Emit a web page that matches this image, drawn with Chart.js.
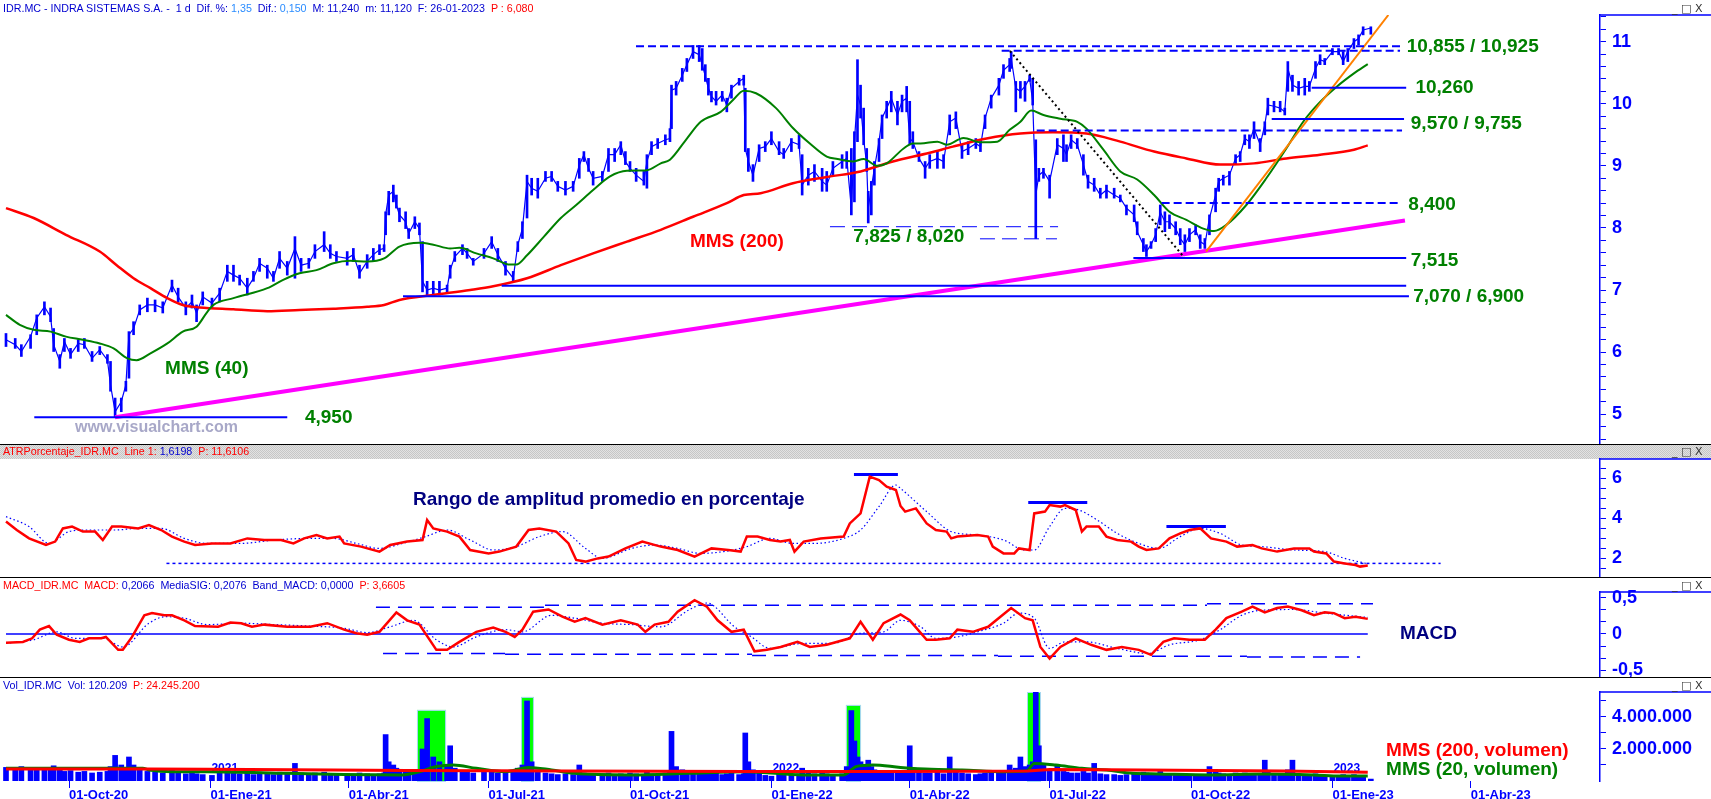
<!DOCTYPE html>
<html>
<head>
<meta charset="utf-8">
<script src="https://cdn.jsdelivr.net/npm/chart.js@4.4.1/dist/chart.umd.min.js"></script>
<style>
  body { margin: 0; width: 1711px; height: 799px; overflow: hidden; position: relative; background: #fff;
         font-family: "Liberation Sans", Arial, sans-serif; }
  canvas { position: absolute; left: 0; }
  .hdr { position: absolute; left: 3px; font-size: 10.7px; line-height: 13px; white-space: pre; color: #0000d0; }
  .b { color: #0000d0; } .lb { color: #2a8cff; } .r { color: #ff0000; }
  .sep { position: absolute; left: 0; width: 1711px; height: 1px; background: #000; }
  .band { position: absolute; left: 0; top: 445px; width: 1711px; height: 14px;
          background: repeating-conic-gradient(#c6c6c6 0 25%, #e2e2e2 0 50%) 0 0 / 2px 2px; }
  .win { position: absolute; left: 1672px; font-family: "DejaVu Sans", sans-serif; font-size: 11px; line-height: 13px;
         color: #333; white-space: pre; }
  .mark { position: absolute; left: 75px; top: 418px; font-size: 16px; font-weight: bold; color: #a8a8c8; }
</style>
</head>
<body>
<div class="band"></div>
<canvas id="cMain" width="1711" height="446" style="top:0"></canvas>
<canvas id="cAtr" width="1711" height="122" style="top:457px"></canvas>
<canvas id="cMacd" width="1711" height="89" style="top:590px"></canvas>
<canvas id="cVol" width="1711" height="109" style="top:690px"></canvas>

<div class="sep" style="top:444px"></div>
<div class="sep" style="top:577px"></div>
<div class="sep" style="top:677px"></div>

<div class="hdr" style="top:2px"><span class="b">IDR.MC - INDRA SISTEMAS S.A. -  1 d  Dif. %: </span><span class="lb">1,35</span><span class="b">  Dif.: </span><span class="lb">0,150</span><span class="b">  M: 11,240  m: 11,120  F: 26-01-2023  </span><span class="r">P : 6,080</span></div>
<div class="hdr" style="top:445px"><span class="r">ATRPorcentaje_IDR.MC  Line 1: </span><span class="b">1,6198</span><span class="r">  P: 11,6106</span></div>
<div class="hdr" style="top:579px"><span class="r">MACD_IDR.MC  MACD: </span><span class="b">0,2066  MediaSIG: 0,2076  Band_MACD: 0,0000</span><span class="r">  P: 3,6605</span></div>
<div class="hdr" style="top:679px"><span class="b">Vol_IDR.MC  Vol: 120.209  </span><span class="r">P: 24.245.200</span></div>
<div class="win" style="top:2px">_ □ X</div>
<div class="win" style="top:445px">_ □ X</div>
<div class="win" style="top:579px">_ □ X</div>
<div class="win" style="top:679px">_ □ X</div>
<div class="mark">www.visualchart.com</div>

<script>
// x axis is in calendar days counted from 01-Oct-2020
const tickDays = [0, 92, 182, 273, 365, 457, 547, 638, 730, 822, 912];
const tickLabels = ['01-Oct-20', '01-Ene-21', '01-Abr-21', '01-Jul-21', '01-Oct-21', '01-Ene-22',
                    '01-Abr-22', '01-Jul-22', '01-Oct-22', '01-Ene-23', '01-Abr-23'];
const yearLabels = [['2021', 92], ['2022', 457], ['2023', 822]];

// price samples (every few sessions)
const days = [
  -41, -35, -31, -25, -21, -16, -12, -10, -6, -3,
  1, 6, 10, 15, 20, 25, 27, 30, 34, 37,
  39, 42, 46, 51, 56, 61, 67, 71, 76, 80,
  83, 87, 93, 98, 103, 107, 111, 116, 120, 124,
  129, 133, 137, 142, 147, 151, 156, 160, 166, 170,
  174, 181, 185, 189, 194, 198, 202, 205, 206, 208,
  211, 213, 215, 219, 221, 225, 228, 230, 233, 237,
  241, 246, 248, 251, 256,
  259, 263, 270, 275, 279, 284, 289, 292, 295, 298,
  301, 305, 310, 314, 318, 323, 328, 332, 335, 338,
  341, 347, 351, 355, 359, 362, 365, 369, 374, 376,
  379, 383, 388, 391, 392, 395, 399, 402, 406, 410,
  412, 414, 416, 418, 421, 425, 428, 431, 436, 439,
  440, 442, 445, 449, 453, 457, 462, 465, 470, 475,
  477, 481, 485, 490, 493, 497, 503, 506, 509, 511,
  513, 515, 517, 519, 520, 522, 524, 527, 529, 532,
  535, 539, 542, 545, 547, 549, 553, 557,
  560, 565, 569, 573, 577, 581, 585, 590, 593, 596,
  600, 605, 608, 612, 613, 616, 619, 622, 625, 627,
  629, 631, 634, 638, 643, 647, 649, 652, 656, 660,
  663, 667, 671, 675, 680, 684, 688, 693, 695, 699,
  701, 704, 707, 710, 713, 716, 720, 723, 726, 729,
  733, 736, 739, 742, 746, 748, 751, 755, 759, 762,
  765, 768, 771, 775, 778, 780, 784, 788, 791, 793,
  796, 800, 804, 807, 811, 814, 817, 822, 826, 829,
  832, 836, 839, 842, 847
];
const highs = [
  6.30, 6.22, 6.12, 6.28, 6.60, 6.81, 6.71, 6.38, 5.96, 6.22,
  6.06, 6.20, 6.22, 6.01, 6.09, 5.96, 5.85, 5.26, 5.26, 5.53,
  6.33, 6.49, 6.76, 6.87, 6.84, 6.81, 7.16, 7.03, 6.81, 6.92,
  6.76, 6.97, 6.87, 7.03, 7.40, 7.40, 7.24, 7.19, 7.30, 7.51,
  7.40, 7.30, 7.62, 7.46, 7.86, 7.51, 7.51, 7.73, 7.94, 7.73,
  7.62, 7.62, 7.67, 7.40, 7.57, 7.67, 7.73, 7.73, 8.26, 8.59,
  8.69, 8.53, 8.32, 8.26, 7.99, 8.18, 8.08, 7.78, 7.14, 7.14,
  7.14, 7.08, 7.40, 7.62, 7.73,
  7.67, 7.51, 7.67, 7.86, 7.67, 7.46, 7.30, 7.78, 8.10, 8.85,
  8.80, 8.80, 8.91, 8.91, 8.75, 8.75, 8.75, 9.12, 9.23, 9.12,
  8.91, 8.91, 9.28, 9.28, 9.39, 9.23, 9.07, 8.96, 8.91, 9.18,
  9.39, 9.44, 9.50, 9.60, 10.30, 10.36, 10.57, 10.73, 10.94, 10.94,
  10.89, 10.63, 10.41, 10.20, 10.20, 10.20, 10.09, 10.30, 10.41, 10.46,
  10.25, 9.28, 9.02, 9.34, 9.39, 9.55, 9.39, 9.28, 9.44, 9.50,
  9.18, 8.96, 9.02, 8.96, 8.91, 9.07, 9.18, 9.23, 9.28, 9.55,
  10.71, 10.30, 9.93, 9.28, 8.59, 8.75, 9.07, 9.44, 9.82, 10.04,
  10.20, 10.04, 10.14, 10.28, 10.04, 9.55, 9.23, 9.07,
  9.18, 9.23, 9.18, 9.82, 9.87, 9.34, 9.39, 9.44, 9.39, 9.82,
  10.14, 10.41, 10.63, 10.73, 10.84, 10.36, 10.36, 10.36, 10.46, 10.41,
  9.42, 8.96, 8.96, 8.85, 9.44, 9.50, 9.34, 9.50, 9.44, 9.18,
  8.85, 8.80, 8.64, 8.69, 8.64, 8.53, 8.37, 8.37, 8.10, 7.83,
  7.73, 7.78, 7.99, 8.37, 8.26, 8.21, 8.10, 7.99, 7.89, 7.99,
  8.05, 7.89, 7.83, 8.21, 8.64, 8.80, 8.85, 8.91, 9.18, 9.23,
  9.50, 9.50, 9.71, 9.44, 9.71, 10.09, 10.04, 10.04, 9.93, 10.68,
  10.46, 10.36, 10.41, 10.36, 10.68, 10.79, 10.73, 10.89, 10.89, 10.84,
  10.89, 11.05, 11.11, 11.24, 11.24
];
const lows = [
  6.09, 6.06, 5.93, 6.06, 6.28, 6.60, 6.49, 6.01, 5.74, 6.01,
  5.90, 6.01, 6.06, 5.85, 5.96, 5.82, 5.37, 4.95, 5.04, 5.37,
  5.58, 6.28, 6.60, 6.65, 6.65, 6.63, 6.97, 6.81, 6.60, 6.71,
  6.49, 6.76, 6.71, 6.81, 7.14, 7.14, 7.08, 6.92, 7.14, 7.30,
  7.19, 7.14, 7.35, 7.24, 7.19, 7.30, 7.35, 7.51, 7.62, 7.51,
  7.46, 7.40, 7.46, 7.19, 7.35, 7.46, 7.57, 7.62, 7.89, 8.21,
  8.42, 8.32, 8.10, 7.99, 7.83, 7.99, 7.89, 6.97, 6.92, 6.92,
  6.92, 6.97, 7.19, 7.46, 7.57,
  7.51, 7.40, 7.51, 7.67, 7.46, 7.24, 7.14, 7.62, 7.83, 8.16,
  8.53, 8.48, 8.75, 8.75, 8.59, 8.53, 8.59, 8.80, 9.07, 8.91,
  8.69, 8.75, 8.91, 9.07, 9.18, 9.02, 8.91, 8.75, 8.69, 8.64,
  9.18, 9.28, 9.34, 9.39, 9.60, 10.14, 10.36, 10.52, 10.73, 10.68,
  10.54, 10.36, 10.14, 10.03, 9.98, 10.04, 9.87, 10.09, 10.30, 10.30,
  9.23, 8.91, 8.75, 9.07, 9.23, 9.34, 9.18, 9.12, 9.23, 9.28,
  8.53, 8.69, 8.75, 8.59, 8.59, 8.85, 8.96, 8.96, 8.21, 8.42,
  9.39, 9.77, 9.34, 8.91, 8.08, 8.21, 8.69, 9.07, 9.44, 9.77,
  9.87, 9.66, 9.87, 9.87, 9.34, 9.28, 9.07, 8.80,
  8.96, 8.96, 8.96, 9.50, 9.60, 9.12, 9.18, 9.28, 9.23, 9.60,
  9.93, 10.14, 10.41, 10.52, 10.57, 9.87, 10.09, 10.04, 10.36, 9.98,
  7.83, 8.75, 8.80, 8.48, 9.18, 9.07, 9.07, 9.28, 9.28, 8.85,
  8.64, 8.59, 8.48, 8.48, 8.48, 8.42, 8.21, 8.10, 7.89, 7.62,
  7.54, 7.67, 7.78, 8.05, 7.94, 7.99, 7.89, 7.73, 7.62, 7.78,
  7.89, 7.67, 7.67, 7.89, 8.26, 8.59, 8.69, 8.69, 9.02, 9.07,
  9.34, 9.28, 9.44, 9.23, 9.50, 9.82, 9.87, 9.87, 9.82, 10.20,
  10.20, 10.14, 10.14, 10.20, 10.41, 10.63, 10.63, 10.79, 10.79, 10.63,
  10.68, 10.89, 10.95, 11.11, 11.12
];
const closes = [
  6.20, 6.12, 6.01, 6.25, 6.55, 6.73, 6.57, 6.12, 5.85, 6.17,
  5.96, 6.14, 6.12, 5.90, 6.04, 5.87, 5.47, 5.04, 5.20, 5.47,
  6.28, 6.38, 6.68, 6.76, 6.76, 6.71, 7.08, 6.89, 6.71, 6.81,
  6.63, 6.89, 6.79, 6.95, 7.30, 7.24, 7.19, 7.03, 7.19, 7.43,
  7.35, 7.19, 7.51, 7.35, 7.67, 7.40, 7.43, 7.62, 7.73, 7.59,
  7.54, 7.51, 7.57, 7.27, 7.46, 7.57, 7.65, 7.67, 8.21, 8.53,
  8.59, 8.37, 8.21, 8.10, 7.91, 8.10, 7.99, 7.14, 7.00, 7.03,
  7.00, 7.03, 7.32, 7.54, 7.67,
  7.59, 7.46, 7.59, 7.78, 7.57, 7.35, 7.19, 7.73, 7.99, 8.75,
  8.64, 8.59, 8.80, 8.83, 8.67, 8.61, 8.67, 9.01, 9.18, 8.96,
  8.80, 8.83, 9.18, 9.18, 9.34, 9.07, 8.96, 8.85, 8.75, 9.07,
  9.31, 9.36, 9.42, 9.44, 10.22, 10.25, 10.46, 10.63, 10.84, 10.79,
  10.63, 10.44, 10.25, 10.12, 10.04, 10.14, 9.98, 10.25, 10.36, 10.41,
  9.28, 9.07, 8.85, 9.28, 9.31, 9.44, 9.23, 9.18, 9.39, 9.34,
  8.69, 8.85, 8.91, 8.75, 8.69, 8.96, 9.07, 9.12, 8.32, 9.39,
  10.14, 9.98, 9.44, 9.02, 8.32, 8.64, 8.96, 9.39, 9.77, 9.93,
  10.09, 9.82, 10.04, 10.09, 9.44, 9.39, 9.12, 8.96,
  9.07, 9.12, 9.07, 9.71, 9.77, 9.23, 9.28, 9.36, 9.31, 9.77,
  10.09, 10.30, 10.54, 10.63, 10.73, 10.25, 10.20, 10.28, 10.41, 10.04,
  8.53, 8.85, 8.91, 8.75, 9.34, 9.28, 9.18, 9.42, 9.34, 9.02,
  8.75, 8.69, 8.53, 8.61, 8.53, 8.48, 8.32, 8.21, 7.94, 7.73,
  7.62, 7.73, 7.89, 8.26, 8.10, 8.10, 7.99, 7.83, 7.73, 7.89,
  7.97, 7.78, 7.73, 8.16, 8.53, 8.75, 8.80, 8.85, 9.12, 9.18,
  9.44, 9.39, 9.60, 9.34, 9.66, 9.98, 9.96, 9.93, 9.87, 10.57,
  10.30, 10.25, 10.28, 10.28, 10.57, 10.71, 10.68, 10.84, 10.84, 10.68,
  10.84, 11.00, 11.05, 11.19, 11.22
];
// volume in millions of shares, same samples as the price
const volumes = [
  0.85, 0.70, 0.90, 0.75, 0.80, 0.85, 0.70, 0.95, 0.80, 0.60,
  0.65, 0.55, 0.60, 0.50, 0.55, 0.60, 0.90, 1.60, 1.00, 0.80,
  1.50, 1.00, 0.80, 0.60, 0.55, 0.50, 0.70, 0.50, 0.45, 0.50,
  0.45, 0.40, 0.35, 0.50, 0.65, 0.50, 0.45, 0.50, 0.40, 0.55,
  0.50, 0.40, 0.55, 0.45, 1.10, 0.50, 0.45, 0.50, 0.55, 0.45,
  0.40, 0.45, 0.40, 0.50, 0.45, 0.40, 0.45, 0.50, 2.90, 1.20,
  1.00, 0.80, 0.70, 0.60, 0.60, 0.55, 0.70, 2.00, 3.90, 1.50,
  1.20, 1.00, 2.20, 0.80, 0.60,
  0.60, 0.50, 0.55, 0.60, 0.50, 0.55, 0.60, 0.80, 1.00, 5.00,
  1.20, 0.70, 0.50, 0.45, 0.40, 0.45, 0.40, 1.00, 0.50, 0.45,
  0.40, 0.45, 0.50, 0.40, 0.45, 0.40, 0.50, 0.45, 0.40, 0.55,
  0.45, 0.40, 0.50, 0.60, 3.10, 0.90, 0.70, 0.60, 0.65, 0.55,
  0.60, 0.50, 0.55, 0.45, 0.50, 0.40, 0.45, 0.50, 0.40, 0.45,
  3.00, 1.20, 0.70, 0.50, 0.35, 0.30, 0.45, 0.40, 0.40, 0.45,
  0.80, 0.50, 0.45, 0.50, 0.45, 0.40, 0.45, 0.90, 4.40, 2.50,
  1.50, 1.20, 1.00, 0.80, 1.30, 0.90, 0.70, 0.60, 0.65, 0.60,
  0.50, 0.55, 0.50, 0.60, 2.20, 0.80, 0.55, 0.50,
  0.50, 0.55, 0.45, 1.50, 0.70, 0.50, 0.45, 0.40, 0.45, 0.50,
  0.55, 0.50, 0.60, 1.00, 0.70, 0.80, 1.50, 0.90, 1.00, 1.20,
  5.60, 2.20, 1.00, 0.70, 1.00, 0.60, 0.55, 0.50, 0.50, 0.60,
  0.50, 1.10, 0.45, 0.40, 0.40, 0.35, 0.40, 0.45, 0.50, 0.55,
  0.50, 0.40, 0.45, 0.60, 0.40, 0.45, 0.35, 0.40, 0.45, 0.40,
  0.40, 0.35, 0.40, 0.90, 0.60, 0.50, 0.45, 0.40, 0.50, 0.45,
  0.50, 0.40, 0.45, 0.40, 1.30, 0.60, 0.40, 0.45, 0.40, 0.70,
  1.30, 0.45, 0.40, 0.35, 0.45, 0.40, 0.30, 0.25, 0.35, 0.40,
  0.35, 0.40, 0.30, 0.35, 0.12
];

// moving averages
const ma40Days = [-41, -32, -23, -12, -2, 9, 20, 29, 38, 44, 53, 64, 74, 83, 90, 94, 107, 129, 139, 150,
  161, 172, 183, 194, 205, 215, 228, 237, 248, 254, 265, 276, 287, 291, 298, 309, 320, 330, 341, 352,
  363, 376, 385, 391, 402, 411, 424, 432, 439, 447, 460, 471, 482, 493, 500, 510, 517, 526, 532, 543,
  549, 554, 565, 571, 582, 593, 604, 612, 619, 626, 634, 645, 656, 662, 673, 684, 695, 706, 716, 727,
  738, 745, 753, 766, 779, 792, 803, 814, 825, 836, 845];
const ma40Values = [6.60, 6.44, 6.36, 6.33, 6.25, 6.20, 6.14, 6.06, 5.90, 5.87, 5.98, 6.14, 6.33, 6.41, 6.65, 6.76, 6.87, 7.03, 7.16, 7.27,
  7.32, 7.43, 7.47, 7.46, 7.51, 7.70, 7.76, 7.73, 7.67, 7.68, 7.59, 7.51, 7.41, 7.41, 7.56, 7.86, 8.16, 8.37, 8.61, 8.83,
  8.92, 8.93, 9.04, 9.10, 9.44, 9.71, 9.87, 10.06, 10.21, 10.17, 9.93, 9.61, 9.36, 9.15, 9.11, 9.07, 9.11, 9.00, 9.04, 9.28,
  9.36, 9.36, 9.39, 9.34, 9.45, 9.38, 9.39, 9.58, 9.71, 9.89, 9.82, 9.76, 9.71, 9.60, 9.26, 8.91, 8.78, 8.53, 8.26, 8.13,
  7.99, 7.95, 8.05, 8.37, 8.80, 9.28, 9.71, 10.03, 10.28, 10.49, 10.64];
const ma200Days = [-41, -23, -2, 20, 31, 42, 53, 64, 74, 85, 107, 129, 150, 172, 194, 205, 215, 237, 261, 276,
  298, 320, 341, 363, 385, 406, 428, 439, 450, 471, 493, 515, 536, 560, 575, 597, 619, 640, 662, 684,
  706, 727, 749, 771, 792, 814, 836, 845];
const ma200Values = [8.32, 8.16, 7.89, 7.62, 7.40, 7.19, 7.03, 6.87, 6.76, 6.72, 6.69, 6.66, 6.68, 6.70, 6.73, 6.76, 6.84, 6.92, 7.00, 7.06,
  7.19, 7.40, 7.59, 7.78, 7.97, 8.18, 8.40, 8.53, 8.56, 8.72, 8.82, 8.91, 9.07, 9.21, 9.31, 9.44, 9.52, 9.54, 9.52, 9.39,
  9.23, 9.12, 9.02, 9.04, 9.12, 9.18, 9.26, 9.33];

// support / resistance drawn on the price panel: [from day, to day, price]
const solidLevels = [[-22.6, 142, 4.95], [217.3, 871.8, 6.90], [281.5, 870, 7.07], [692.5, 870, 7.515],
                     [782.5, 868.6, 9.755], [808.5, 870, 10.26]];
const dashedLevels = [[368.9, 866, 10.925], [606.8, 866, 10.855], [629.6, 867.3, 9.57], [710.9, 866.7, 8.40]];
const thinDashedLevels = [[495.1, 643.5, 8.02], [592.7, 642.8, 7.825]];
// trend lines: [[day, price], [day, price]]
const supportLine = [[29.9, 4.95], [869.2, 8.12]];
const trendUp = [[739.8, 7.62], [858.4, 11.43]];
const trendDown = [[612.2, 10.85], [726.1, 7.51]];
// text on the price panel: [text, day, price]
const levelLabels = [['10,855 / 10,925', 870.3, 10.92], ['10,260', 876, 10.25], ['9,570 / 9,755', 873, 9.675],
  ['8,400', 871.4, 8.38], ['7,515', 873, 7.47], ['7,070 / 6,900', 874.6, 6.89], ['4,950', 153.5, 4.94],
  ['7,825 / 8,020', 510.3, 7.86], ['MMS (40)', 62.5, 5.73]];
const redLabels = [['MMS (200)', 404, 7.78]];
const priceTickLabels = [5, 6, 7, 8, 9, 10, 11];

// ATR % panel
const atrDays = [-41, -34, -26, -15, -9, -4, 2, 9, 17, 22,
  28, 34, 45, 52, 60, 67, 75, 82, 93, 105,
  116, 127, 138, 146, 153, 161, 168, 176, 179, 190,
  202, 209, 220, 230, 233, 237, 246, 254, 261, 273,
  280, 291, 299, 306, 317, 325, 330, 336, 344, 351,
  362, 373, 385, 396, 407, 418, 429, 437, 441, 448,
  456, 463, 469, 472, 478, 489, 504, 508, 515, 521,
  527, 532, 538, 541, 544, 551, 558, 564, 571, 574,
  578, 591, 598, 601, 608, 615, 618, 625, 628, 635,
  638, 645, 648, 655, 659, 662, 670, 675, 682, 691,
  696, 701, 709, 716, 723, 729, 736, 743, 753, 760,
  770, 776, 786, 797, 807, 810, 818, 823, 830, 837,
  840, 845];
const atrValues = [3.82, 3.40, 2.98, 2.65, 2.82, 3.48, 3.57, 3.32, 3.32, 2.90,
  3.57, 3.57, 3.48, 3.65, 3.40, 3.07, 2.82, 2.65, 2.73, 2.73,
  2.98, 2.90, 2.90, 2.73, 2.98, 3.15, 2.98, 3.07, 2.73, 2.57,
  2.32, 2.65, 2.82, 2.90, 3.90, 3.48, 3.32, 3.07, 2.40, 2.23,
  2.32, 2.57, 3.40, 3.48, 3.32, 2.73, 1.90, 1.82, 1.98, 2.07,
  2.48, 2.82, 2.57, 2.40, 2.07, 2.48, 2.40, 2.32, 3.07, 3.07,
  2.90, 2.82, 2.90, 2.32, 2.82, 2.98, 3.07, 3.73, 4.23, 6.07,
  5.90, 5.57, 5.40, 4.60, 4.32, 4.48, 3.73, 3.40, 3.32, 2.98,
  3.07, 3.15, 3.07, 2.57, 2.23, 2.23, 2.48, 2.40, 4.23, 4.32,
  4.65, 4.57, 4.65, 4.40, 3.32, 3.57, 3.57, 3.07, 2.90, 2.82,
  2.57, 2.40, 2.48, 2.98, 3.23, 3.40, 3.48, 2.98, 2.82, 2.57,
  2.65, 2.48, 2.32, 2.48, 2.48, 2.32, 2.23, 1.82, 1.73, 1.65,
  1.57, 1.62];
const atrAvgDays = [-41, -26, -13, 0, 11, 30, 45, 60, 75, 90, 112, 134, 157, 172, 187, 202, 217, 232, 246, 261,
  276, 291, 306, 321, 336, 347, 366, 381, 396, 411, 426, 441, 456, 471, 485, 504, 515, 527, 538, 541,
  558, 574, 591, 608, 622, 628, 638, 648, 657, 669, 682, 696, 709, 723, 736, 749, 763, 776, 797, 817,
  830, 844];
const atrAvgValues = [4.07, 3.57, 2.73, 3.32, 3.40, 3.40, 3.48, 3.48, 2.98, 2.73, 2.73, 2.90, 2.98, 2.98, 2.73, 2.48, 2.73, 3.07, 3.40, 2.90,
  2.40, 2.57, 3.07, 3.32, 2.48, 1.98, 2.48, 2.65, 2.48, 2.23, 2.32, 2.57, 2.98, 2.73, 2.73, 2.98, 3.40, 4.57, 5.65, 5.48,
  4.32, 3.32, 3.15, 2.90, 2.40, 2.40, 3.57, 4.48, 4.40, 3.90, 3.23, 2.73, 2.48, 3.07, 3.48, 3.23, 2.65, 2.57, 2.40, 2.32,
  1.98, 1.73];
const atrPeakMarks = [[510.7, 539.3, 6.18], [624.1, 662.5, 4.77], [714, 752.7, 3.57]];
const atrFloor = [63.4, 892.4, 1.73];
const atrTickLabels = [2, 4, 6];

// MACD panel
const macdDays = [-41, -30, -24, -19, -13, -8, 0, 7, 13, 21,
  24, 32, 35, 41, 49, 54, 62, 67, 75, 82,
  97, 105, 112, 119, 127, 142, 157, 168, 179, 187,
  194, 202, 213, 220, 228, 239, 246, 254, 265, 276,
  284, 290, 295, 302, 312, 321, 329, 336, 347, 359,
  370, 375, 381, 390, 396, 407, 415, 422, 431, 439,
  446, 454, 463, 474, 482, 493, 508, 515, 523, 530,
  541, 547, 558, 564, 573, 578, 588, 598, 606, 613,
  622, 627, 632, 638, 645, 655, 665, 675, 685, 696,
  704, 712, 719, 729, 739, 746, 753, 763, 770, 778,
  786, 793, 802, 810, 817, 823, 830, 837, 845];
const macdValues = [-0.12, -0.11, -0.06, 0.06, 0.11, -0.01, -0.08, -0.11, -0.06, -0.06,
  -0.04, -0.22, -0.22, -0.04, 0.26, 0.29, 0.26, 0.26, 0.19, 0.11,
  0.10, 0.16, 0.15, 0.10, 0.13, 0.10, 0.10, 0.15, 0.06, 0.01,
  -0.01, 0.03, 0.30, 0.19, 0.13, -0.22, -0.22, -0.11, 0.03, 0.09,
  0.03, -0.04, 0.06, 0.31, 0.34, 0.24, 0.17, 0.22, 0.13, 0.19,
  0.13, 0.03, 0.13, 0.17, 0.31, 0.47, 0.38, 0.19, 0.03, 0.06,
  -0.24, -0.22, -0.18, -0.11, -0.18, -0.15, -0.06, 0.17, -0.08, 0.15,
  0.27, 0.19, -0.08, -0.08, -0.06, 0.06, 0.03, 0.10, 0.24, 0.36,
  0.22, 0.19, -0.18, -0.34, -0.18, -0.06, -0.15, -0.22, -0.18, -0.22,
  -0.29, -0.11, -0.06, -0.08, -0.08, 0.06, 0.22, 0.31, 0.38, 0.30,
  0.36, 0.38, 0.33, 0.26, 0.30, 0.29, 0.22, 0.24, 0.21];
const signalDays = [-41, -23, -8, 4, 22, 35, 52, 63, 75, 90, 112, 134, 157, 179, 194, 209, 224, 239, 250, 265,
  284, 295, 314, 329, 347, 366, 385, 403, 415, 433, 444, 456, 478, 497, 515, 530, 541, 554, 564, 578,
  591, 608, 618, 628, 638, 648, 662, 682, 702, 716, 736, 749, 763, 776, 797, 817, 845];
const signalValues = [-0.13, -0.08, 0.03, -0.06, -0.06, -0.18, 0.15, 0.24, 0.22, 0.13, 0.15, 0.13, 0.11, 0.08, 0.02, 0.10, 0.19, -0.08, -0.18, -0.04,
  0.06, 0.03, 0.26, 0.22, 0.15, 0.13, 0.10, 0.33, 0.43, 0.10, -0.04, -0.20, -0.13, -0.13, 0.01, 0.03, 0.19, 0.10, -0.06, -0.04,
  0.03, 0.15, 0.29, 0.22, -0.20, -0.11, -0.11, -0.20, -0.27, -0.15, -0.08, 0.06, 0.26, 0.33, 0.34, 0.29, 0.23];
const macdZero = [-41, 845, 0];
const macdUpperBand = [[199.7, 309.7, 0.37], [309.7, 740.4, 0.40], [740.4, 848.4, 0.42]];
const macdLowerBand = [[204.3, 283.7, -0.27], [283.7, 444.4, -0.28], [444.4, 604.4, -0.30], [604.4, 766.4, -0.31], [766.4, 840, -0.32]];
const macdTickLabels = [-0.5, 0, 0.5];

// volume panel (millions)
const volMa20Days = [-41, 48, 52, 67, 90, 142, 179, 217, 228, 239, 250, 265, 284, 299, 314, 329, 366, 403, 441, 478,
  504, 512, 523, 541, 561, 581, 608, 623, 628, 642, 659, 675, 692, 709, 743, 776, 810, 827, 845];
const volMa20Values = [0.79, 0.79, 0.69, 0.58, 0.58, 0.48, 0.40, 0.38, 0.58, 0.90, 1.00, 0.79, 0.58, 0.85, 0.69, 0.48, 0.38, 0.48, 0.58, 0.38,
  0.38, 0.90, 1.00, 0.85, 0.73, 0.69, 0.58, 0.62, 1.10, 1.00, 0.79, 0.69, 0.48, 0.44, 0.38, 0.44, 0.38, 0.31, 0.31];
const volMa200Days = [-41, 52, 90, 172, 220, 325, 441, 541, 624, 638, 675, 790, 845];
const volMa200Values = [0.75, 0.75, 0.73, 0.68, 0.65, 0.62, 0.59, 0.60, 0.63, 0.72, 0.70, 0.62, 0.55];
// green boxes behind volume peaks: [from day, to day, top]
const volHighlights = [[226.4, 245.3, 4.44], [294.1, 302.5, 5.25], [505.5, 515.3, 4.75], [623.3, 632.4, 5.6]];
const volTickLabels = [2, 4];

const FONT = '"Liberation Sans", Arial, sans-serif';
const BLUE = '#0000ff', GREEN = '#008000', RED = '#ff0000';
const X_MIN = -44.9, X_MAX = 996.1;

Chart.defaults.font.family = FONT;
Chart.defaults.animation = false;
Chart.defaults.events = [];
Chart.defaults.plugins.legend.display = false;
Chart.defaults.plugins.tooltip.enabled = false;

const pts = (xs, ys) => xs.map((x, i) => ({ x, y: ys[i] }));
const seg = (s, style) => Object.assign({ type: 'line', data: [{ x: s[0], y: s[2] }, { x: s[1], y: s[2] }], pointRadius: 0 }, style);
const line2 = (p, style) => Object.assign({ type: 'line', data: p.map(([x, y]) => ({ x, y })), pointRadius: 0 }, style);
const steps = (a, b, st) => { const out = []; for (let v = a; v <= b + 1e-9; v += st) out.push(+v.toFixed(4)); return out; };
const near = (v, list) => list.some(t => Math.abs(t - v) < 1e-6);

function xHidden() {
  return { type: 'linear', min: X_MIN, max: X_MAX, display: false, offset: false, grid: { offset: false } };
}
function yRight(min, max, tickVals, label) {
  return {
    type: 'linear', position: 'right', min, max,
    afterBuildTicks: s => { s.ticks = tickVals.map(v => ({ value: v })); },
    afterFit: s => { s.width = 111; s.paddingTop = 0; s.paddingBottom = 0; },
    ticks: { autoSkip: false, padding: 6, color: BLUE, font: { size: 18, weight: 'bold' }, callback: v => label(v) },
    grid: { drawOnChartArea: false, color: BLUE, tickLength: 6, lineWidth: 1 },
    border: { color: BLUE, width: 1.5 }
  };
}

// short blue line to the right of every axis top
const axisCap = {
  id: 'axisCap',
  afterDraw(chart) {
    const { ctx, chartArea: a } = chart;
    ctx.save();
    ctx.strokeStyle = BLUE; ctx.lineWidth = 1.5;
    ctx.beginPath(); ctx.moveTo(a.right, a.top); ctx.lineTo(chart.width, a.top); ctx.stroke();
    ctx.restore();
  }
};
// bold notes placed in data coordinates
const panelText = {
  id: 'panelText',
  afterDatasetsDraw(chart, args, opts) {
    const { ctx, scales: { x, y } } = chart;
    ctx.save();
    ctx.textBaseline = 'middle'; ctx.textAlign = 'left';
    ((opts && opts.items) || []).forEach(([t, d, v, color, size]) => {
      ctx.font = `bold ${size || 19}px ${FONT}`;
      ctx.fillStyle = color;
      ctx.fillText(t, x.getPixelForValue(d), y.getPixelForValue(v));
    });
    ctx.restore();
  }
};
Chart.register(axisCap, panelText);

// ---- price panel
const levelStyle = { borderColor: BLUE, borderWidth: 2 };
const dashStyle = { borderColor: BLUE, borderWidth: 2, borderDash: [8, 4] };
const thinDash = { borderColor: BLUE, borderWidth: 1, borderDash: [15, 7] };

new Chart(document.getElementById('cMain'), {
  type: 'line',
  data: {
    datasets: [
      ...solidLevels.map(s => seg(s, levelStyle)),
      ...dashedLevels.map(s => seg(s, dashStyle)),
      ...thinDashedLevels.map(s => seg(s, thinDash)),
      line2(trendDown, { borderColor: '#000', borderWidth: 2, borderDash: [2, 3] }),
      line2(trendUp, { borderColor: '#ff8000', borderWidth: 2 }),
      line2(supportLine, { borderColor: '#ff00ff', borderWidth: 4 }),
      { data: pts(ma40Days, ma40Values), borderColor: GREEN, borderWidth: 2, pointRadius: 0, cubicInterpolationMode: 'monotone' },
      { data: pts(ma200Days, ma200Values), borderColor: RED, borderWidth: 2.5, pointRadius: 0, cubicInterpolationMode: 'monotone' },
      { data: pts(days, closes), borderColor: BLUE, borderWidth: 1.2, pointRadius: 0 },
      { type: 'bar', data: days.map((d, i) => ({ x: d, y: [lows[i], highs[i]] })), backgroundColor: BLUE, barThickness: 2 }
    ]
  },
  options: {
    responsive: false,
    layout: { padding: { top: 15, bottom: 2, left: 0, right: 0 } },
    scales: {
      x: xHidden(),
      y: yRight(4.52, 11.43, steps(4.6, 11.4, 0.2), v => near(v, priceTickLabels) ? String(Math.round(v)) : '')
    },
    plugins: {
      panelText: { items: [...levelLabels.map(l => [...l, GREEN]), ...redLabels.map(l => [...l, RED])] }
    }
  }
});

// ---- ATR % panel
new Chart(document.getElementById('cAtr'), {
  type: 'line',
  data: {
    datasets: [
      { data: pts(atrDays, atrValues), borderColor: RED, borderWidth: 2.5, pointRadius: 0 },
      { data: pts(atrAvgDays, atrAvgValues), borderColor: BLUE, borderWidth: 1.2, borderDash: [1.5, 2.5], pointRadius: 0, cubicInterpolationMode: 'monotone' },
      ...atrPeakMarks.map(s => seg(s, { borderColor: BLUE, borderWidth: 3 })),
      seg(atrFloor, { borderColor: BLUE, borderWidth: 1.5, borderDash: [3, 3] })
    ]
  },
  options: {
    responsive: false,
    layout: { padding: { top: 2, bottom: 2, left: 0, right: 0 } },
    scales: {
      x: xHidden(),
      y: yRight(1.05, 6.95, steps(1.5, 6.5, 0.5), v => near(v, atrTickLabels) ? String(v) : '')
    },
    plugins: { panelText: { items: [['Rango de amplitud promedio en porcentaje', 223.8, 4.9, '#000080']] } }
  }
});

// ---- MACD panel
const bandStyle = { borderColor: BLUE, borderWidth: 1.5, borderDash: [14, 8] };
new Chart(document.getElementById('cMacd'), {
  type: 'line',
  data: {
    datasets: [
      { data: pts(macdDays, macdValues), borderColor: RED, borderWidth: 2.5, pointRadius: 0 },
      { data: pts(signalDays, signalValues), borderColor: BLUE, borderWidth: 1.2, borderDash: [1.5, 2.5], pointRadius: 0, cubicInterpolationMode: 'monotone' },
      seg(macdZero, { borderColor: BLUE, borderWidth: 1.5 }),
      ...macdUpperBand.map(s => seg(s, bandStyle)),
      ...macdLowerBand.map(s => seg(s, bandStyle))
    ]
  },
  options: {
    responsive: false,
    layout: { padding: { top: 2, bottom: 2, left: 0, right: 0 } },
    scales: {
      x: xHidden(),
      y: yRight(-0.597, 0.583, [-0.5, -1 / 3, -1 / 6, 0, 1 / 6, 1 / 3, 0.5],
        v => near(v, macdTickLabels) ? String(v).replace('.', ',') : '')
    },
    plugins: { panelText: { items: [['MACD', 866, 0.01, '#000080']] } }
  }
});

// ---- volume panel
const volBoxes = {
  id: 'volBoxes',
  beforeDatasetsDraw(chart) {
    const { ctx, scales: { x, y } } = chart;
    ctx.save();
    volHighlights.forEach(([d0, d1, top]) => {
      const x0 = x.getPixelForValue(d0), x1 = x.getPixelForValue(d1);
      const y0 = y.getPixelForValue(Math.min(top, y.max)), y1 = y.getPixelForValue(0);
      ctx.fillStyle = '#00ff00';
      ctx.fillRect(x0, y0, x1 - x0, y1 - y0);
      ctx.strokeStyle = '#a8d8f0'; ctx.lineWidth = 1;
      ctx.strokeRect(x0 + 0.5, y0 + 0.5, x1 - x0 - 1, y1 - y0);
    });
    ctx.font = `bold 12px ${FONT}`;
    ctx.fillStyle = BLUE; ctx.textBaseline = 'middle';
    yearLabels.forEach(([t, d]) => ctx.fillText(t, x.getPixelForValue(d) + 1, y.getPixelForValue(0.75)));
    ctx.restore();
  }
};
const fmtVol = v => String(Math.round(v * 1e6)).replace(/\B(?=(\d{3})+(?!\d))/g, '.');

new Chart(document.getElementById('cVol'), {
  type: 'line',
  data: {
    datasets: [
      { data: pts(volMa200Days, volMa200Values), borderColor: RED, borderWidth: 3, pointRadius: 0 },
      { data: pts(volMa20Days, volMa20Values), borderColor: GREEN, borderWidth: 3, pointRadius: 0, cubicInterpolationMode: 'monotone' },
      { type: 'bar', data: pts(days, volumes), backgroundColor: BLUE, barThickness: 5 }
    ]
  },
  options: {
    responsive: false,
    layout: { padding: { top: 2, bottom: 0, left: 0, right: 0 } },
    scales: {
      x: {
        type: 'linear', min: X_MIN, max: X_MAX, offset: false, position: 'bottom',
        afterBuildTicks: s => { s.ticks = tickDays.map(v => ({ value: v })); },
        afterFit: s => { s.height = 18; s.paddingLeft = 0; s.paddingRight = 0; },
        ticks: { autoSkip: false, maxRotation: 0, align: 'start', padding: 0, color: BLUE,
                 font: { size: 13, weight: 'bold' }, callback: (v, i) => tickLabels[i] },
        grid: { drawOnChartArea: false, offset: false, color: BLUE, tickLength: 7 },
        border: { display: false }
      },
      y: yRight(0, 5.56, [1, 2, 3, 4, 5], v => near(v, volTickLabels) ? fmtVol(v) : '')
    },
    plugins: {
      panelText: { items: [['MMS (200, volumen)', 856.9, 1.875, RED], ['MMS (20, volumen)', 856.9, 0.69, GREEN]] }
    }
  },
  plugins: [volBoxes]
});
</script>
</body>
</html>
